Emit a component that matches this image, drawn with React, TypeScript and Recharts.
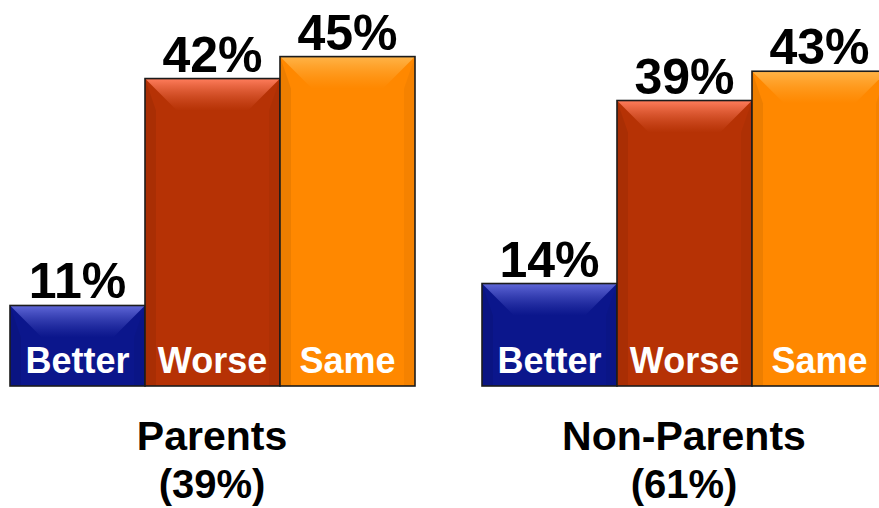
import { BarChart, Bar, XAxis, YAxis, LabelList } from 'recharts';

const groups = ['Parents', 'Non-Parents'];
const groupShares = ['(39%)', '(61%)'];
const better = [11, 14];
const worse = [42, 39];
const same = [45, 43];

const data = groups.map((g, i) => ({
  group: g,
  share: groupShares[i],
  better: better[i],
  worse: worse[i],
  same: same[i],
}));

const tones: Record<string, { base: string; light: string }> = {
  better: { base: '#0b168c', light: '#6068d8' },
  worse: { base: '#b63205', light: '#ff7d5c' },
  same: { base: '#ff8800', light: '#ffb448' },
};

const font = '"Liberation Sans", Arial, Helvetica, sans-serif';

function bevelBar(key: string) {
  return (props: any) => {
    const { x, y, width: w, height: h } = props;
    if (!h || h <= 0) return <g />;
    const t = tones[key];
    const b = Math.min(32, h / 2);
    const s = 11;
    return (
      <g>
        <rect x={x} y={y} width={w} height={h} fill={t.base} />
        <polygon
          points={`${x},${y} ${x + s},${y + b} ${x + s},${y + h} ${x},${y + h}`}
          fill="#000"
          fillOpacity={0.07}
        />
        <polygon
          points={`${x + w},${y} ${x + w - s},${y + b} ${x + w - s},${y + h} ${x + w},${y + h}`}
          fill="#000"
          fillOpacity={0.04}
        />
        <polygon
          points={`${x},${y} ${x + w},${y} ${x + w - b},${y + b} ${x + b},${y + b}`}
          fill={`url(#top-${key})`}
        />
        <rect x={x} y={y} width={w} height={h} fill="none" stroke="#1c1c1c" strokeWidth={1.6} />
      </g>
    );
  };
}

function valueLabel(props: any) {
  const { x, y, width, value } = props;
  return (
    <text
      x={x + width / 2}
      y={y - 7}
      textAnchor="middle"
      fontFamily={font}
      fontWeight="bold"
      fontSize={50}
      fill="#000"
    >
      {value}%
    </text>
  );
}

function nameLabel(name: string) {
  return (props: any) => {
    const { x, y, width, height } = props;
    return (
      <text
        x={x + width / 2}
        y={y + height - 13}
        textAnchor="middle"
        fontFamily={font}
        fontWeight="bold"
        fontSize={36}
        fill="#fff"
      >
        {name}
      </text>
    );
  };
}

function GroupTick(props: any) {
  const { x, y, payload, index } = props;
  return (
    <g>
      <text x={x} y={y + 64} textAnchor="middle" fontFamily={font} fontWeight="bold" fontSize={41} fill="#000">
        {payload.value}
      </text>
      <text x={x} y={y + 112} textAnchor="middle" fontFamily={font} fontWeight="bold" fontSize={40} fill="#000">
        {groupShares[index]}
      </text>
    </g>
  );
}

export default function App() {
  return (
    <div style={{ position: 'absolute', left: 0, top: 0, width: 879, height: 508, overflow: 'hidden', background: '#fff' }}>
      <div style={{ position: 'absolute', left: -24, top: 0 }}>
        <BarChart
          width={944}
          height={508}
          data={data}
          margin={{ top: 20, right: 0, left: 0, bottom: 0 }}
          barGap={0}
          barCategoryGap={34}
        >
          <defs>
            {Object.keys(tones).map((k) => (
              <linearGradient key={k} id={`top-${k}`} x1="0" y1="0" x2="0" y2="1">
                <stop offset="0%" stopColor={tones[k].light} />
                <stop offset="100%" stopColor={tones[k].base} stopOpacity={0.6} />
              </linearGradient>
            ))}
          </defs>
          <XAxis
            dataKey="group"
            height={122}
            axisLine={false}
            tickLine={false}
            tickSize={0}
            tickMargin={0}
            interval={0}
            tick={<GroupTick />}
          />
          <YAxis hide domain={[0, 50]} />
          <Bar dataKey="better" shape={bevelBar('better')} isAnimationActive={false}>
            <LabelList dataKey="better" content={valueLabel} />
            <LabelList dataKey="better" content={nameLabel('Better')} />
          </Bar>
          <Bar dataKey="worse" shape={bevelBar('worse')} isAnimationActive={false}>
            <LabelList dataKey="worse" content={valueLabel} />
            <LabelList dataKey="worse" content={nameLabel('Worse')} />
          </Bar>
          <Bar dataKey="same" shape={bevelBar('same')} isAnimationActive={false}>
            <LabelList dataKey="same" content={valueLabel} />
            <LabelList dataKey="same" content={nameLabel('Same')} />
          </Bar>
        </BarChart>
      </div>
    </div>
  );
}
